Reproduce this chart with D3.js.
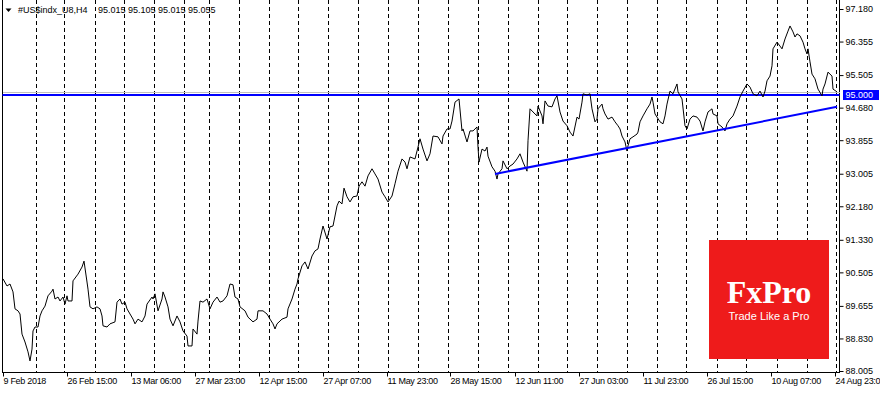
<!DOCTYPE html>
<html>
<head>
<meta charset="utf-8">
<title>#US$indx_U8,H4</title>
<script src="https://cdn.jsdelivr.net/npm/d3@7"></script>
<style>
  body{margin:0;background:#fff;}
  svg{display:block;font-family:"Liberation Sans",Arial,sans-serif;}
</style>
</head>
<body>
<div id="chart"></div>
<script>
// header
var symbol = '#US$indx_U8,H4';
var ohlc = [95.015, 95.105, 95.015, 95.055];

// H4 closes, bar index counted from 9 Feb 2018 00:00
var bars = [0,4,7,10,12,15,17,19,22,25,27,29,30,32,35,37,39,42,45,49,50,52,55,57,60,62,64,65,69,70,75,79,81,84,85,87,90,94,97,99,
  100,104,107,112,114,117,119,122,124,127,130,132,135,139,142,144,149,150,152,155,159,160,162,165,167,170,174,177,180,184,185,189,190,194,195,197,
  200,204,207,210,214,217,220,224,227,230,232,235,237,242,245,250,254,255,260,264,267,270,272,274,279,284,285,289,292,294,
  295,299,302,305,309,312,315,317,320,324,327,330,334,336,339,341,344,347,350,354,356,359,362,365,369,372,375,379,382,385,389,392,395,399,
  402,404,407,412,415,417,420,424,427,430,435,439,440,444,447,449,452,456,459,460,464,467,470,474,475,476,479,482,484,485,489,492,494,495,499,
  500,504,507,510,514,517,520,524,525,527,530,534,535,539,540,542,545,549,552,554,557,560,564,567,
  570,574,576,579,580,584,587,589,592,594,595,599,600,602,605,609,612,615,617,619,622,624,625,627,630,634,635,637,640,644,647,649,650,652,654,657,
  660,662,664,667,670,674,675,679,682,684,687,690,694,697,700,702,705,709,710,714,715,719,722,724,727,730,734,737,740,744,747,750,754,757,760,762,764,767,769,
  770,774,777,779,782,785,787,790,792,794,797,800,802,804,805,807,809,812,815,819,820,822,825,829,830,834];
var closes = [90.34,90.16,90.21,90.01,89.58,89.53,89.45,88.94,88.74,88.49,88.26,88.56,89.02,89.12,89.12,89.40,89.53,89.65,89.91,90.03,90.08,89.83,89.88,89.78,89.88,89.70,89.91,89.78,89.78,90.29,90.46,90.64,90.79,90.26,90.08,89.63,89.58,89.63,89.58,89.40,
  89.15,89.12,89.20,89.25,89.75,89.83,89.70,89.75,89.58,89.45,89.32,89.20,89.32,89.25,89.40,89.70,89.88,89.83,89.96,89.53,89.83,90.01,89.88,89.63,89.32,89.15,89.40,89.25,89.02,88.89,88.64,88.64,89.07,88.94,89.27,89.78,
  89.75,89.83,89.58,89.75,89.88,89.75,89.78,89.91,90.21,90.19,89.88,89.83,89.63,89.53,89.37,89.25,89.32,89.53,89.53,89.45,89.32,89.20,89.07,89.20,89.32,89.37,89.58,89.83,90.08,90.21,
  90.34,90.67,90.77,90.59,90.92,91.05,91.10,91.35,91.68,91.35,91.66,91.68,92.19,92.31,92.24,92.64,92.42,92.29,92.42,92.44,92.69,92.80,92.69,92.95,93.13,93.00,92.87,92.54,92.42,92.29,92.44,92.75,93.07,93.38,
  93.30,93.13,93.43,93.38,93.68,93.89,93.63,93.33,93.51,93.96,93.94,93.76,93.96,94.14,94.14,94.34,94.82,94.90,94.09,94.14,93.81,94.09,94.09,94.19,93.68,93.30,93.63,93.58,93.68,93.45,93.18,93.07,92.87,93.00,93.13,
  93.33,93.13,93.20,93.25,93.38,93.51,93.30,93.07,93.84,94.65,94.57,94.47,94.72,94.47,94.27,94.85,94.72,94.70,94.90,94.98,94.57,94.34,94.22,94.06,
  93.96,94.44,94.39,94.82,95.03,95.00,95.03,94.65,94.32,94.39,94.65,94.77,94.65,94.52,94.39,94.44,94.32,94.22,94.14,93.96,93.81,93.58,93.71,93.89,93.94,94.01,94.06,94.32,94.47,94.65,94.77,94.95,94.82,94.52,94.44,94.32,
  94.27,94.47,94.77,95.10,95.03,95.28,95.08,94.90,94.22,94.14,94.39,94.47,94.44,94.34,94.09,94.32,94.57,94.65,94.52,94.47,94.27,94.19,94.09,94.27,94.39,94.47,94.72,94.95,95.10,95.28,95.20,95.03,94.98,95.10,94.95,95.10,95.36,95.48,95.74,
  96.17,96.34,96.24,96.17,96.42,96.62,96.75,96.60,96.47,96.55,96.50,96.34,96.17,96.04,96.17,95.84,95.53,95.41,95.15,94.98,95.15,95.28,95.58,95.48,95.15,95.08];

// price scale labels
var priceTicks = [97.180, 96.355, 95.505, 94.680, 93.855, 93.005, 92.180, 91.330, 90.505, 89.655, 88.830, 88.005];

// time scale labels
var dateBars = [0, 64, 128, 192, 256, 320, 384, 447, 512, 576, 640, 704, 768, 832];
var dateLabels = ['9 Feb 2018', '26 Feb 15:00', '13 Mar 06:00', '27 Mar 23:00', '12 Apr 15:00', '27 Apr 07:00', '11 May 23:00',
  '28 May 15:00', '12 Jun 11:00', '27 Jun 03:00', '11 Jul 23:00', '26 Jul 15:00', '10 Aug 07:00', '24 Aug 23:00'];
var gridBars = [33, 61, 92, 121, 151, 181, 206, 236, 266, 295, 325, 355, 385, 415, 445, 475, 505, 535, 564, 594, 624, 654, 683, 714, 743, 774, 804, 833];

// drawn objects
var levelPrice = 95.000;
var bidPrice = 95.055;
var trendBars = [492, 834];
var trendPrices = [93.00, 94.70];

var width = 880, height = 395;
var left = 2.5, right = 839.5, bottom = 372.5;

var svg = d3.select('#chart').append('svg').attr('width', width).attr('height', height);

var x = d3.scaleLinear().domain([0, 836]).range([3, 839]);
var y = d3.scaleLinear().domain([88.005, 97.180]).range([371, 9]);

// vertical dashed grid
svg.append('g').selectAll('line').data(gridBars).enter().append('line')
  .attr('x1', function(d){ return Math.round(x(d)) + 0.5; })
  .attr('x2', function(d){ return Math.round(x(d)) + 0.5; })
  .attr('y1', 0).attr('y2', bottom)
  .attr('stroke', '#000').attr('stroke-dasharray', '4,3')
  .attr('shape-rendering', 'crispEdges');

// frame
svg.append('path')
  .attr('d', 'M' + left + ',0V' + bottom + 'H' + right + 'V0')
  .attr('fill', 'none').attr('stroke', '#000').attr('shape-rendering', 'crispEdges');

// logo
var logo = svg.append('g');
logo.append('rect').attr('x', 709).attr('y', 240).attr('width', 120).attr('height', 119).attr('fill', '#ee1b1b');
logo.append('text').attr('x', 769).attr('y', 303).attr('text-anchor', 'middle')
  .style('font-family', '"Liberation Serif","Times New Roman",serif').style('font-size', '32px').style('font-weight', 'bold')
  .attr('fill', '#fff').text('FxPro');
logo.append('text').attr('x', 769).attr('y', 319.5).attr('text-anchor', 'middle')
  .style('font-size', '11px').attr('fill', '#fff').text('Trade Like a Pro');

// bid line + horizontal level
svg.append('line').attr('x1', left).attr('x2', right)
  .attr('y1', Math.round(y(bidPrice)) - 0.5).attr('y2', Math.round(y(bidPrice)) - 0.5)
  .attr('stroke', '#c0c0c0').attr('shape-rendering', 'crispEdges');
svg.append('line').attr('x1', left).attr('x2', right)
  .attr('y1', y(levelPrice)).attr('y2', y(levelPrice))
  .attr('stroke', '#0000ff').attr('stroke-width', 2);

// price line
var line = d3.line()
  .x(function(d, i){ return x(bars[i]); })
  .y(function(d){ return y(d); });
svg.append('path').datum(closes)
  .attr('d', line)
  .attr('fill', 'none').attr('stroke', '#000').attr('stroke-width', 1);

// trend line
svg.append('line')
  .attr('x1', x(trendBars[0])).attr('y1', y(trendPrices[0]))
  .attr('x2', x(trendBars[1])).attr('y2', y(trendPrices[1]))
  .attr('stroke', '#0000ff').attr('stroke-width', 2);

// right price axis
var yAxis = d3.axisRight(y).tickValues(priceTicks).tickSize(4).tickSizeOuter(0)
  .tickFormat(d3.format('.3f'));
var ya = svg.append('g').attr('transform', 'translate(' + right + ',0)').call(yAxis);
ya.select('.domain').remove();
ya.selectAll('text').attr('x', 6).style('font-size', '9px').attr('fill', '#000');
ya.selectAll('line').attr('stroke', '#000');

// level label
var ly = y(levelPrice);
svg.append('rect').attr('x', 843).attr('y', ly - 5).attr('width', 36).attr('height', 10).attr('fill', '#0000ff');
svg.append('text').attr('x', 845.5).attr('y', ly).attr('dy', '0.35em')
  .style('font-size', '9px').attr('fill', '#fff').text(d3.format('.3f')(levelPrice));

// bottom time axis
var xAxis = d3.axisBottom(x).tickValues(dateBars).tickSize(4).tickSizeOuter(0)
  .tickFormat(function(d, i){ return dateLabels[i]; });
var xa = svg.append('g').attr('transform', 'translate(0,' + bottom + ')').call(xAxis);
xa.select('.domain').remove();
xa.selectAll('text').attr('text-anchor', 'start').attr('x', 0).attr('y', 5)
  .style('font-size', '9px').style('letter-spacing', '-0.3px').attr('fill', '#000');
xa.selectAll('line').attr('stroke', '#000');

// header
svg.append('path').attr('d', 'M5.5,8.5H11.5L8.5,12Z').attr('fill', '#000');
svg.append('text').attr('x', 18).attr('y', 10).attr('dy', '0.35em').style('font-size', '9px').attr('fill', '#000').text(symbol);
svg.append('text').attr('x', 98).attr('y', 10).attr('dy', '0.35em').style('font-size', '9px').attr('fill', '#000').text(ohlc.map(d3.format('.3f')).join(' '));
</script>
</body>
</html>
